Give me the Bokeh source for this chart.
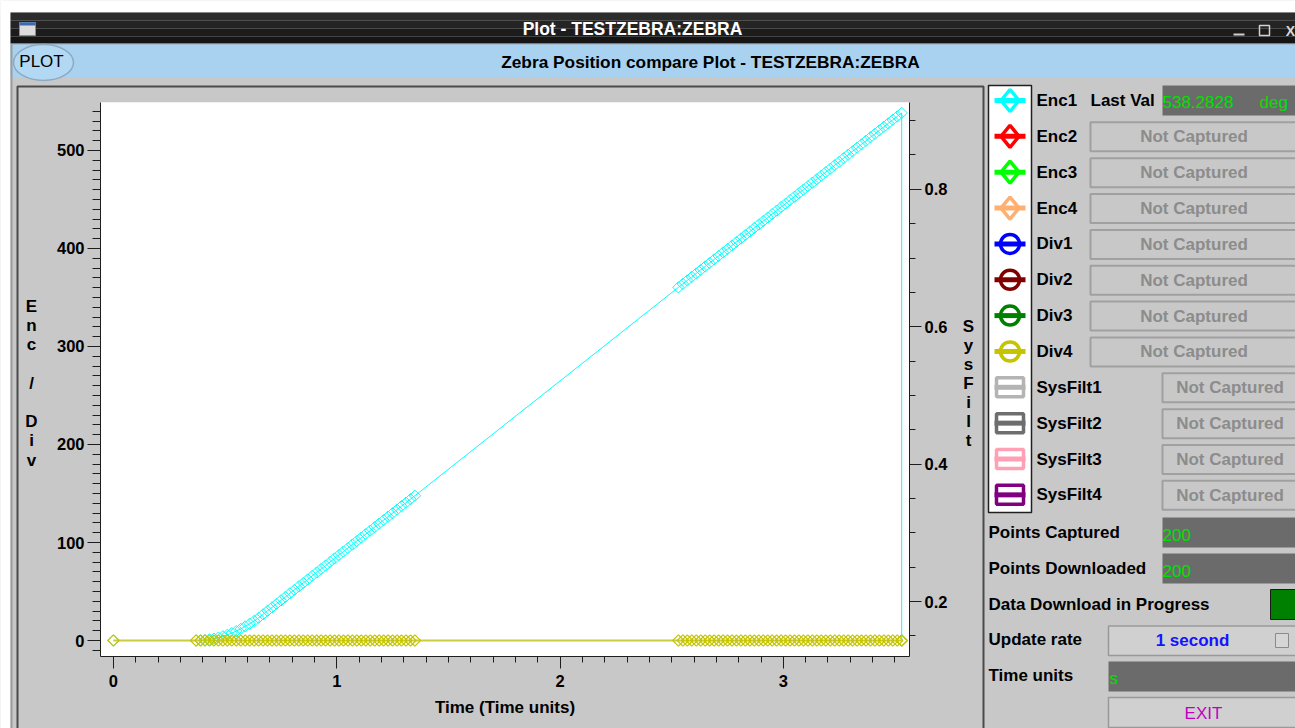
from bokeh.plotting import figure
from bokeh.models import Range1d, LinearAxis, SingleIntervalTicker, GridBox
from bokeh.core.properties import value
from bokeh.embed import file_html
from bokeh.resources import INLINE

# ---------------- data ----------------
times = [0.0,
         0.37, 0.39, 0.41, 0.43, 0.45, 0.47, 0.49, 0.51, 0.53, 0.55,
         0.57, 0.59, 0.61, 0.63, 0.65, 0.67, 0.69, 0.71, 0.73, 0.75,
         0.77, 0.79, 0.81, 0.83, 0.85, 0.87, 0.89, 0.91, 0.93, 0.95,
         0.97, 0.99, 1.01, 1.03, 1.05, 1.07, 1.09, 1.11, 1.13, 1.15,
         1.17, 1.19, 1.21, 1.23, 1.25, 1.27, 1.29, 1.31, 1.33, 1.35,
         2.53, 2.55, 2.57, 2.59, 2.61, 2.63, 2.65, 2.67, 2.69, 2.71,
         2.73, 2.75, 2.77, 2.79, 2.81, 2.83, 2.85, 2.87, 2.89, 2.91,
         2.93, 2.95, 2.97, 2.99, 3.01, 3.03, 3.05, 3.07, 3.09, 3.11,
         3.13, 3.15, 3.17, 3.19, 3.21, 3.23, 3.25, 3.27, 3.29, 3.31,
         3.33, 3.35, 3.37, 3.39, 3.41, 3.43, 3.45, 3.47, 3.49, 3.51,
         3.53,
         3.53]

enc1_vals = [0.0,
             0.0, 0.1, 0.5, 1.1, 1.9, 3.0, 4.3, 5.8, 7.6, 9.6,
             11.9, 14.4, 17.1, 20.0, 23.2, 26.7, 30.3, 33.8, 37.4, 40.9,
             44.5, 48.1, 51.6, 55.2, 58.7, 62.3, 65.9, 69.4, 73.0, 76.5,
             80.1, 83.7, 87.2, 90.8, 94.3, 97.9, 101.5, 105.0, 108.6, 112.1,
             115.7, 119.3, 122.8, 126.4, 129.9, 133.5, 137.1, 140.6, 144.2, 147.7,
             360.3, 363.8, 367.4, 371.0, 374.5, 378.1, 381.6, 385.2, 388.8, 392.3,
             395.9, 399.4, 403.0, 406.6, 410.1, 413.7, 417.2, 420.8, 424.4, 427.9,
             431.5, 435.0, 438.6, 442.2, 445.7, 449.3, 452.8, 456.4, 460.0, 463.5,
             467.1, 470.6, 474.2, 477.8, 481.3, 484.9, 488.4, 492.0, 495.6, 499.1,
             502.7, 506.2, 509.8, 513.4, 516.9, 520.5, 524.0, 527.6, 531.2, 534.7,
             538.28,
             0.0]

div4_vals = [0.0,
             0, 0, 0, 0, 0, 0, 0, 0, 0, 0,
             0, 0, 0, 0, 0, 0, 0, 0, 0, 0,
             0, 0, 0, 0, 0, 0, 0, 0, 0, 0,
             0, 0, 0, 0, 0, 0, 0, 0, 0, 0,
             0, 0, 0, 0, 0, 0, 0, 0, 0, 0,
             0, 0, 0, 0, 0, 0, 0, 0, 0, 0,
             0, 0, 0, 0, 0, 0, 0, 0, 0, 0,
             0, 0, 0, 0, 0, 0, 0, 0, 0, 0,
             0, 0, 0, 0, 0, 0, 0, 0, 0, 0,
             0, 0, 0, 0, 0, 0, 0, 0, 0, 0,
             0,
             0.0]

legend_names = ["Enc1", "Enc2", "Enc3", "Enc4", "Div1", "Div2", "Div3", "Div4",
                "SysFilt1", "SysFilt2", "SysFilt3", "SysFilt4"]
legend_colors = ["#00ffff", "#ff0000", "#00ff00", "#ffb070", "#0000ff", "#800000",
                 "#008000", "#c4c400", "#b4b4b4", "#6e6e6e", "#ffa0b4", "#800080"]
legend_markers = ["diamond", "diamond", "diamond", "diamond", "circle", "circle",
                  "circle", "circle", "square", "square", "square", "square"]
status_texts = ["538.2828", "Not Captured", "Not Captured", "Not Captured",
                "Not Captured", "Not Captured", "Not Captured", "Not Captured",
                "Not Captured", "Not Captured", "Not Captured", "Not Captured"]
last_val_label = "Last Val"
last_val_unit = "deg"
info_labels = ["Points Captured", "Points Downloaded", "Data Download in Progress",
               "Update rate", "Time units"]
points_captured = "200"
points_downloaded = "200"
update_rate = "1 second"
time_units = "s"
exit_text = "EXIT"
window_title = "Plot - TESTZEBRA:ZEBRA"
panel_title = "Zebra Position compare Plot - TESTZEBRA:ZEBRA"
plot_button = "PLOT"
x_label = "Time (Time units)"
y_label = "Enc / Div"
y2_label = "SysFilt"

W, H = 1295, 728
FONT = "Liberation Sans"

# ---------------- chart figure (underneath) ----------------
p = figure(width=W, height=H, title=None,
           x_range=Range1d(-0.058, 3.565), y_range=Range1d(-16.3, 548.9),
           output_backend="svg", toolbar_location=None,
           min_border_left=100, min_border_right=386, min_border_top=102, min_border_bottom=72,
           border_fill_color="#c8c8c8", background_fill_color="white")
p.frame_align = False
p.outline_line_color = None
p.xgrid.visible = False
p.ygrid.visible = False
p.extra_y_ranges = {"sys": Range1d(0.1201, 0.9264)}

xa = p.xaxis[0]
ya = p.yaxis[0]
xa.ticker = SingleIntervalTicker(interval=1, num_minor_ticks=10)
ya.ticker = SingleIntervalTicker(interval=100, num_minor_ticks=10)
ra = LinearAxis(y_range_name="sys", ticker=SingleIntervalTicker(interval=0.2, num_minor_ticks=4))
p.add_layout(ra, "right")

for ax in (xa, ya, ra):
    ax.axis_line_color = "#1e1e1e"
    ax.major_tick_line_color = "#1e1e1e"
    ax.minor_tick_line_color = "#1e1e1e"
    ax.major_tick_in = 0
    ax.minor_tick_in = 0
    ax.major_label_text_font = FONT
    ax.major_label_text_font_size = "16.5px"
    ax.major_label_text_font_style = "bold"
    ax.major_label_text_color = "black"
xa.major_tick_out, xa.minor_tick_out, xa.major_label_standoff = 12, 6, 6
ya.major_tick_out, ya.minor_tick_out, ya.major_label_standoff = 13, 8, 3
ra.major_tick_out, ra.minor_tick_out, ra.major_label_standoff = 12, 6, 3

xa.axis_label = x_label
xa.axis_label_text_font = FONT
xa.axis_label_text_font_size = "17px"
xa.axis_label_text_font_style = "bold"
xa.axis_label_text_color = "black"
xa.axis_label_standoff = 8

p.line(times, enc1_vals, line_color="#00ffff", line_width=1)
p.scatter(times, enc1_vals, marker="square", angle=0.785398, size=8,
          fill_color=None, line_color="#00ffff", line_width=1)
p.line(times, div4_vals, line_color="#cccc40", line_width=2)
p.scatter(times, div4_vals, marker="square", angle=0.785398, size=8,
          fill_color=None, line_color="#c4c400", line_width=1.2)

# ---------------- overlay figure: window chrome in pixel space (transparent) ----------------
bg = figure(width=W, height=H, title=None, x_range=Range1d(0, W), y_range=Range1d(H, 0),
            output_backend="svg", toolbar_location=None,
            min_border_left=0, min_border_right=0, min_border_top=0, min_border_bottom=0,
            x_axis_type=None, y_axis_type=None,
            background_fill_color="#c8c8c8", background_fill_alpha=0.0,
            border_fill_color="#c8c8c8", border_fill_alpha=0.0)
bg.frame_align = False
bg.outline_line_color = None


def rect(X1, Y1, X2, Y2, fill=None, line=None, lw=1.0):
    bg.quad(left=[X1], right=[X2], top=[Y1], bottom=[Y2],
            fill_color=fill, line_color=line, line_width=lw)


def txt(text, X, Y, size=17, bold=True, color="black", align="left"):
    bg.text(x=[X], y=[Y], text=[text], text_font=value(FONT),
            text_font_size=value(f"{size}px"),
            text_font_style="bold" if bold else "normal",
            text_color=color, text_align=align, text_baseline="middle")


# white page margin strips
rect(0, 0, W, 12, fill="white")
rect(0, 0, 10, H, fill="white")

# window title bar
rect(10, 12, W, 20, fill="#2c2c2c")
rect(10, 20, W, 28, fill="#242424")
rect(10, 28, W, 36, fill="#1c1c1c")
rect(10, 36, W, 43, fill="#151515")
rect(10, 43, W, 44, fill="#7a8aa0")
rect(19, 22, 35, 35, fill="#dcdcdc", line="#8090a0")
rect(19, 22, 35, 25, fill="#3a6ab0")
txt(window_title, 632, 28, size=17.5, color="white", align="center")
rect(1233, 33, 1244, 35, fill="#d0d0d0")
rect(1259, 25, 1269, 35, line="#d0d0d0", lw=1.5)
txt("X", 1290, 30, size=14, color="#d8d8d8", align="center")

# light blue header
rect(10, 44, W, 77, fill="#a8d2f0")
bg.ellipse(x=[43], y=[62], width=[60], height=[36], fill_color="#b2d8f3",
           line_color="#8eaac2", line_width=1.5)
txt(plot_button, 41, 61, size=17, bold=False, align="center")
txt(panel_title, 710, 61, size=17.3, align="center")

# window left border and plot panel frame
rect(10, 44, 12, H, fill="#9c9c9c")
rect(17, 86, 983, H + 10, line="#4a4a4a", lw=2)

# stacked axis titles (one letter per line)
for k, ch in enumerate(y_label):
    if ch != " ":
        txt(ch, 31, 306 + 19.2 * k, size=17, align="center")
for k, ch in enumerate(y2_label):
    txt(ch, 968, 326 + 19 * k, size=17, align="center")

# legend panel
rect(988, 85, 1031, 512, fill="white", line="#202020", lw=1.5)
for i, (name, col, mk) in enumerate(zip(legend_names, legend_colors, legend_markers)):
    Y = 100 + 35.85 * i
    rect(994, Y - 2.5, 1025, Y + 2.5, fill=col)
    if mk == "diamond":
        bg.patch([1009.5, 1018.5, 1009.5, 1000.5], [Y - 11, Y, Y + 11, Y],
                 fill_color=None, line_color=col, line_width=3.5)
    elif mk == "circle":
        bg.scatter([1009.5], [Y], marker="circle", size=19, fill_color=None,
                   line_color=col, line_width=3.5)
    else:
        rect(996, Y - 9.5, 1023, Y + 9.5, line=col, lw=3.5)
    txt(name, 1036, Y)
    if i == 0:
        txt(last_val_label, 1090, Y)
        rect(1162, 85, W + 5, 115, fill="#6b6b6b")
        txt(status_texts[0], 1162, 101.5, bold=False, color="#00e000")
        txt(last_val_unit, 1259, 101.5, bold=False, color="#00e000")
    else:
        Yb = Y + 0.5
        X1 = 1090 if i < 8 else 1162
        rect(X1, Yb - 14.5, W + 5, Yb + 14.5, fill="#c8c8c8", line="#a0a0a0", lw=2)
        txt(status_texts[i], (X1 + 1297) / 2, Yb, color="#8c8c8c", align="center")

# info rows
txt(info_labels[0], 988, 531.5)
rect(1162, 517, W + 5, 547, fill="#6b6b6b")
txt(points_captured, 1162, 534, bold=False, color="#00e000")

txt(info_labels[1], 988, 567.5)
rect(1162, 553, W + 5, 583, fill="#6b6b6b")
txt(points_downloaded, 1162, 570, bold=False, color="#00e000")

txt(info_labels[2], 988, 603.5)
rect(1270, 589, W + 5, 619, fill="#008000", line="#1a1a1a", lw=1)

txt(info_labels[3], 988, 639)
rect(1108, 625.5, W + 5, 655, fill="#d0d0d0", line="#999999", lw=1.5)
txt(update_rate, 1192, 640, color="#1414ff", align="center")
rect(1275, 633, 1288, 647, fill="#d6d6d6", line="#8a8a8a", lw=1)

txt(info_labels[4], 988, 675)
rect(1108, 661, W + 5, 691, fill="#6b6b6b")
txt(time_units, 1109, 678, bold=False, color="#00e000")

rect(1108, 697, W + 5, 727, fill="#d0d0d0", line="#999999", lw=1.5)
txt(exit_text, 1203, 712.5, bold=False, color="#c000c0", align="center")

layout = GridBox(children=[(p, 0, 0), (bg, 0, 0)], spacing=0)

open("out.html", "w").write(file_html(layout, INLINE))
